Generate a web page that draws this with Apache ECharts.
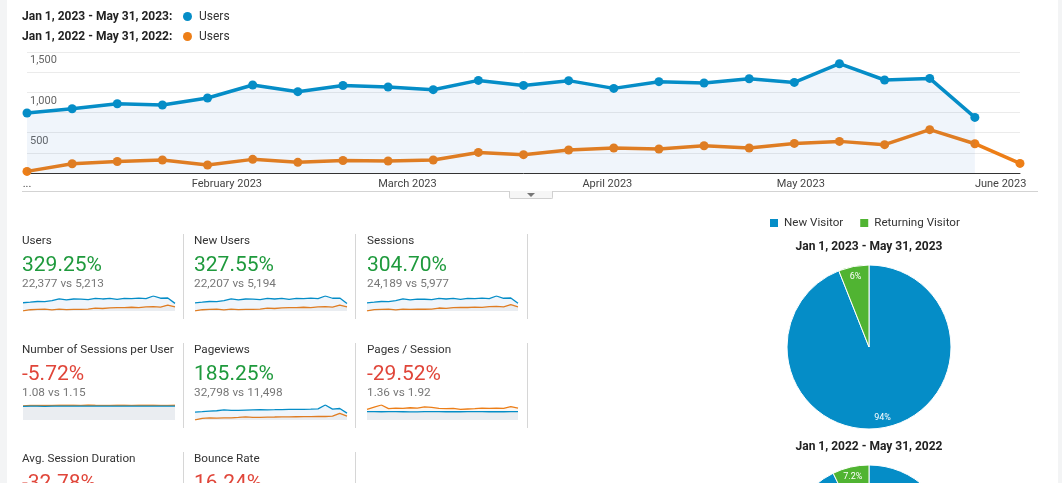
<!DOCTYPE html>
<html>
<head>
<meta charset="utf-8">
<script src="https://cdn.jsdelivr.net/npm/echarts@6/dist/echarts.min.js"></script>
<style>
html, body { margin: 0; padding: 0; background: #f3f4f5; }
#page { position: relative; width: 1062px; height: 483px; overflow: hidden; font-family: Roboto, Arial, sans-serif; color: #333; }
#panel { position: absolute; left: 7px; top: 0; width: 1051px; height: 483px; background: #fff; }
#chart { position: absolute; left: 0; top: 0; width: 1062px; height: 483px; }
.txt { position: absolute; white-space: nowrap; z-index: 5; }
.leg { font-size: 12px; line-height: 14px; }
.leg b { font-weight: 700; color: #222; }
.dot { position: absolute; width: 9px; height: 9px; border-radius: 50%; }
.tname { font-size: 11.7px; line-height: 14px; color: #333; }
.tpct { font-size: 21px; line-height: 24px; }
.tcmp { font-size: 11.8px; line-height: 14px; color: #777; }
.div { position: absolute; width: 1px; background: #d6d6d6; z-index: 5; }
.ptitle { font-size: 12px; line-height: 14px; font-weight: 700; color: #222; width: 200px; text-align: center; }
#sep { position: absolute; left: 22px; top: 191px; width: 1016px; height: 1px; background: #d3d3d3; }
#tab { position: absolute; left: 509px; top: 191px; width: 42px; height: 7px; border: 1px solid #d0d0d0; border-top: none; background: #f6f6f6; border-radius: 0 0 2px 2px; }
#tab:after { content: ""; position: absolute; left: 17px; top: 2px; border-left: 4px solid transparent; border-right: 4px solid transparent; border-top: 4px solid #777; }
</style>
</head>
<body>
<div id="page">
  <div id="panel"></div>
  <div id="chart"></div>
  <div id="sep"></div>
  <div id="tab"></div>
</div>
<script>
// weekly users, one point per week starting Jan 1
var weekValues2023 = [744, 797, 859, 843, 930, 1091, 1008, 1085, 1066, 1033, 1148, 1086, 1145, 1049, 1132, 1116, 1169, 1123, 1355, 1153, 1173, 689];
var weekValues2022 = [20, 115, 143, 161, 99, 169, 132, 155, 149, 161, 255, 227, 285, 310, 298, 338, 310, 367, 392, 351, 537, 363, 119];

// x axis: days since Jan 1, month starts get a label
var monthDays = [0, 31, 59, 90, 120, 151];
var monthLabels = ['...', 'February 2023', 'March 2023', 'April 2023', 'May 2023', 'June 2023'];
var yLabelValues = [500, 1000, 1500];

var rangeLabels = ['Jan 1, 2023 - May 31, 2023', 'Jan 1, 2022 - May 31, 2022'];
var metricName = 'Users';

// scorecards
var tileNames = ['Users', 'New Users', 'Sessions', 'Number of Sessions per User', 'Pageviews', 'Pages / Session', 'Avg. Session Duration', 'Bounce Rate'];
var tileChanges = ['329.25%', '327.55%', '304.70%', '-5.72%', '185.25%', '-29.52%', '-32.78%', '16.24%'];
var tileGood = [true, true, true, false, true, false, false, false];
var tileCompare = ['22,377 vs 5,213', '22,207 vs 5,194', '24,189 vs 5,977', '1.08 vs 1.15', '32,798 vs 11,498', '1.36 vs 1.92', '', ''];

// sparklines (22 weeks each)
var sparkUsers2023 = [744, 797, 859, 843, 930, 1091, 1008, 1085, 1066, 1033, 1148, 1086, 1145, 1049, 1132, 1116, 1169, 1123, 1355, 1153, 1173, 689];
var sparkUsers2022 = [20, 115, 143, 161, 99, 169, 132, 155, 149, 161, 255, 227, 285, 310, 298, 338, 310, 367, 392, 351, 537, 363];
var sparkNewUsers2023 = [738, 790, 852, 836, 922, 1083, 1000, 1077, 1058, 1025, 1140, 1078, 1136, 1041, 1124, 1108, 1160, 1114, 1346, 1144, 1164, 682];
var sparkNewUsers2022 = [19, 114, 142, 160, 98, 168, 131, 154, 148, 160, 253, 225, 283, 308, 296, 336, 308, 365, 390, 349, 535, 361];
var sparkSessions2023 = [800, 855, 925, 905, 1000, 1175, 1085, 1165, 1145, 1110, 1235, 1170, 1230, 1130, 1220, 1200, 1255, 1210, 1460, 1240, 1265, 745];
var sparkSessions2022 = [22, 130, 162, 182, 112, 192, 150, 176, 170, 183, 290, 258, 324, 352, 339, 384, 352, 417, 445, 399, 610, 412];
var sparkSpu2023 = [1.07, 1.08, 1.08, 1.07, 1.08, 1.08, 1.08, 1.09, 1.08, 1.08, 1.08, 1.08, 1.08, 1.09, 1.08, 1.08, 1.08, 1.08, 1.08, 1.08, 1.08, 1.08];
var sparkSpu2022 = [1.10, 1.13, 1.13, 1.14, 1.13, 1.16, 1.15, 1.15, 1.14, 1.17, 1.15, 1.14, 1.14, 1.15, 1.15, 1.14, 1.15, 1.15, 1.15, 1.14, 1.14, 1.15];
var sparkPageviews2023 = [1230, 1300, 1400, 1450, 1600, 1500, 1520, 1560, 1600, 1620, 1600, 1610, 1640, 1650, 1660, 1680, 1700, 1750, 2350, 1700, 1800, 1070];
var sparkPageviews2022 = [20, 270, 320, 300, 330, 340, 400, 480, 420, 420, 450, 470, 500, 500, 510, 520, 540, 560, 550, 600, 1050, 620];
var sparkPps2023 = [1.38, 1.36, 1.35, 1.37, 1.36, 1.35, 1.33, 1.34, 1.36, 1.37, 1.36, 1.35, 1.36, 1.35, 1.36, 1.37, 1.36, 1.35, 1.36, 1.35, 1.36, 1.37];
var sparkPps2022 = [1.75, 2.10, 2.45, 1.85, 1.95, 1.90, 2.00, 1.95, 2.15, 2.05, 1.90, 1.85, 1.90, 1.75, 1.80, 1.85, 1.95, 1.90, 1.95, 1.90, 2.20, 1.95];

// visitor type pies
var visitorTypes = ['New Visitor', 'Returning Visitor'];
var visitorShare2023 = [94, 6];
var visitorShare2022 = [92.8, 7.2];

var blue = '#058dc7';
var orange = '#ed7e17';
var green = '#50b432';

var page = document.getElementById('page');
function addText(cls, left, top, html, style) {
	var d = document.createElement('div');
	d.className = 'txt ' + cls;
	d.style.left = left + 'px';
	d.style.top = top + 'px';
	d.innerHTML = html;
	if (style) d.style.cssText += style;
	page.appendChild(d);
	return d;
}

// top legend
addText('leg', 22, 9, '<b>' + rangeLabels[0] + ':</b>');
addText('leg', 199, 9, metricName);
addText('leg', 22, 29, '<b>' + rangeLabels[1] + ':</b>');
addText('leg', 199, 29, metricName);
var d1 = document.createElement('div'); d1.className = 'dot'; d1.style.cssText = 'left:183px;top:12px;background:' + blue; page.appendChild(d1);
var d2 = document.createElement('div'); d2.className = 'dot'; d2.style.cssText = 'left:183px;top:32px;background:' + orange; page.appendChild(d2);

// scorecard texts
var colLeft = [22, 194, 367];
var colRight = [183, 355, 527];
var rowTop = [233, 342, 451];
for (var i = 0; i < tileNames.length; i++) {
	var c = i % 3, r = Math.floor(i / 3);
	addText('tname', colLeft[c], rowTop[r], tileNames[i]);
	addText('tpct', colLeft[c], rowTop[r] + 19, tileChanges[i], 'color:' + (tileGood[i] ? '#1f9a3d' : '#e0463a'));
	if (tileCompare[i]) addText('tcmp', colLeft[c], rowTop[r] + 43, tileCompare[i]);
	var dv = document.createElement('div');
	dv.className = 'div';
	dv.style.left = colRight[c] + 'px';
	dv.style.top = (rowTop[r] + 1) + 'px';
	dv.style.height = '85px';
	page.appendChild(dv);
}

// pie titles
addText('ptitle', 769, 239, rangeLabels[0]);
addText('ptitle', 769, 439, rangeLabels[1]);

function fmt(v) { return String(v).replace(/\B(?=(\d{3})+(?!\d))/g, ','); }

var myChart = echarts.init(document.getElementById('chart'));

var grids = [{ left: 27, top: 52, width: 993, height: 121 }];
var xAxes = [{
	type: 'value', gridIndex: 0, min: 0, max: 154,
	splitLine: { show: false },
	axisTick: { show: false },
	axisLine: { lineStyle: { color: '#333', width: 1 } },
	axisLabel: {
		customValues: monthDays,
		margin: 6,
		color: '#444',
		fontSize: 11,
		fontFamily: 'Roboto',
		formatter: function(v) { return monthLabels[monthDays.indexOf(v)]; }
	}
}];
var yAxes = [{
	type: 'value', gridIndex: 0, min: 0, max: 1500, interval: 250,
	axisLine: { show: false },
	axisTick: { show: false },
	splitLine: { lineStyle: { color: '#ebebeb' } },
	axisLabel: {
		inside: true,
		margin: 3,
		verticalAlign: 'top',
		padding: [3, 0, 0, 0],
		color: '#666',
		fontSize: 11,
		fontFamily: 'Roboto',
		formatter: function(v) { return yLabelValues.indexOf(v) >= 0 ? fmt(v) : ''; }
	}
}];

var series = [{
	name: rangeLabels[0], type: 'line', xAxisIndex: 0, yAxisIndex: 0,
	data: weekValues2023.map(function(v, i) { return [i * 7, v]; }),
	symbol: 'circle', symbolSize: 9, showAllSymbol: true,
	lineStyle: { color: blue, width: 3.5 },
	itemStyle: { color: blue },
	areaStyle: { color: 'rgba(40,120,200,0.1)' },
	z: 3
}, {
	name: rangeLabels[1], type: 'line', xAxisIndex: 0, yAxisIndex: 0,
	data: weekValues2022.map(function(v, i) { return [i * 7, v]; }),
	symbol: 'circle', symbolSize: 9, showAllSymbol: true,
	lineStyle: { color: orange, width: 3.5 },
	itemStyle: { color: orange },
	z: 2
}];

// sparklines: [current, previous] per tile
var sparks = [
	[sparkUsers2023, sparkUsers2022],
	[sparkNewUsers2023, sparkNewUsers2022],
	[sparkSessions2023, sparkSessions2022],
	[sparkSpu2023, sparkSpu2022],
	[sparkPageviews2023, sparkPageviews2022],
	[sparkPps2023, sparkPps2022]
];
var sparkLeft = [23, 195, 367];
var sparkTop = [296, 405];
sparks.forEach(function(pair, k) {
	var g = k + 1, c = k % 3, r = Math.floor(k / 3);
	grids.push({ left: sparkLeft[c], top: sparkTop[r], width: c === 2 ? 151 : 152, height: 15 });
	xAxes.push({ type: 'category', gridIndex: g, boundaryGap: false, show: false, data: pair[0].map(function(v, i) { return i; }) });
	yAxes.push({ type: 'value', gridIndex: g, min: 0, max: 'dataMax', show: false, splitLine: { show: false } });
	series.push({
		type: 'line', xAxisIndex: g, yAxisIndex: g, data: pair[0], showSymbol: false, silent: true,
		lineStyle: { color: blue, width: 1.3 }, areaStyle: { color: 'rgba(40,120,200,0.1)' }, z: 3
	});
	series.push({
		type: 'line', xAxisIndex: g, yAxisIndex: g, data: pair[1], showSymbol: false, silent: true,
		lineStyle: { color: orange, width: 1.3 }, areaStyle: { color: 'rgba(150,110,70,0.08)' }, z: 2
	});
});

function pieData(vals) {
	return visitorTypes.map(function(n, i) { return { name: n, value: vals[i] }; });
}
[[visitorShare2023, 347], [visitorShare2022, 547]].forEach(function(p) {
	series.push({
		type: 'pie', center: [869, p[1]], radius: [0, 82], startAngle: 90, clockwise: true,
		data: pieData(p[0]), label: { show: false }, labelLine: { show: false },
		itemStyle: { borderColor: '#fff', borderWidth: 1 }, silent: true
	});
	series.push({
		type: 'pie', center: [869, p[1]], radius: [56, 82], startAngle: 90, clockwise: true,
		data: pieData(p[0]), silent: true,
		itemStyle: { color: 'rgba(0,0,0,0)' },
		label: {
			show: true, position: 'inside', color: '#fff', fontSize: 9, fontFamily: 'Roboto',
			formatter: function(prm) { return prm.value + '%'; }
		},
		labelLine: { show: false }
	});
});

var option = {
	animation: false,
	color: [blue, green],
	grid: grids,
	xAxis: xAxes,
	yAxis: yAxes,
	legend: {
		data: visitorTypes,
		left: 768, top: 217, padding: 0,
		icon: 'rect', itemWidth: 10, itemHeight: 10, itemGap: 15,
		selectedMode: false,
		textStyle: { fontSize: 11.6, color: '#333', fontFamily: 'Roboto' }
	},
	series: series
};

myChart.setOption(option);
</script>
</body>
</html>
